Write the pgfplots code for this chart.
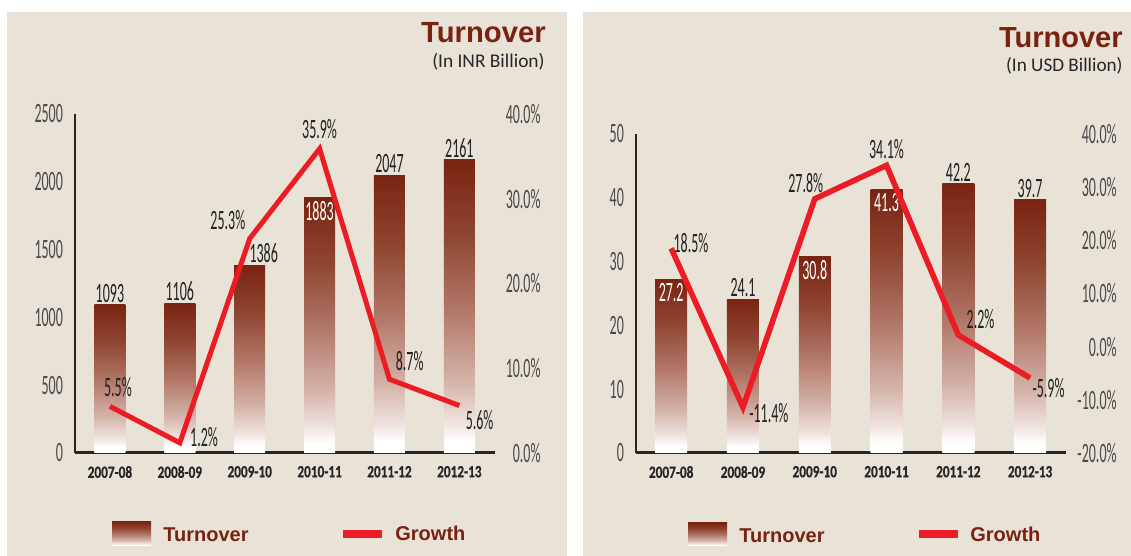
\documentclass[border=0pt]{standalone}
\usepackage{pgfplots}
\pgfplotsset{compat=1.18}
\usepackage{fontspec}
\setmainfont{Carlito}
\newfontfamily\cond[FakeStretch=0.5]{Carlito}
\newfontfamily\catfont[FakeStretch=0.78,FakeBold=0.6]{Carlito}
\newfontfamily\tfont{Liberation Sans}
\definecolor{bg}{HTML}{E8E2D7}
\definecolor{titlered}{HTML}{7A2212}
\definecolor{growthred}{HTML}{EC1C24}
\definecolor{bartop}{HTML}{7A2412}
\definecolor{barc4}{HTML}{8E4530}
\definecolor{barc3}{HTML}{B07565}
\definecolor{barc2}{HTML}{D4B2A8}
\definecolor{barc1}{HTML}{F0E4E0}
\definecolor{ticklab}{HTML}{4A4A4A}
\definecolor{datalab}{HTML}{222222}
\pgfdeclareverticalshading{barshade}{100bp}{color(0bp)=(white); color(27bp)=(white); color(30bp)=(barc1); color(37.5bp)=(barc2); color(50bp)=(barc3); color(62.5bp)=(barc4); color(75bp)=(bartop); color(100bp)=(bartop)}
\tikzset{
  dl/.style={font=\cond\fontsize{14}{16}\selectfont, text=datalab, inner sep=1pt},
  dlw/.style={font=\cond\fontsize{14}{16}\selectfont, text=white, inner sep=1.5pt},
  legtxt/.style={anchor=west, text=titlered, font=\tfont\bfseries\fontsize{10}{12}\selectfont, inner sep=0pt},
}
\pgfplotsset{
  base/.style={
    scale only axis, anchor=south west,
    axis x line*=bottom, axis y line*=left,
    axis line style={-, color=black!85},
    x axis line style={line width=1.5pt},
    y axis line style={line width=1pt},
    major tick length=0pt,
    tick style={draw=none},
    /pgf/number format/assume math mode=true,
    /pgf/number format/1000 sep={},
    yticklabel style={font=\cond\fontsize{14}{16}\selectfont, text=ticklab},
    xtick={0,1,2,3,4,5},
    xticklabels={2007-08,2008-09,2009-10,2010-11,2011-12,2012-13},
    xticklabel style={font=\catfont\bfseries\fontsize{8.5}{10}\selectfont, text=black!85, yshift=-3pt},
    clip=false,
  },
  bars/.style={ybar, bar shift=0pt, draw=none, shading=barshade},
  grow/.style={
    scale only axis, anchor=south west,
    axis x line=none, axis y line*=right,
    y axis line style={draw=none},
    major tick length=0pt, tick style={draw=none},
    /pgf/number format/assume math mode=true,
    yticklabel={\pgfmathprintnumber[fixed,fixed zerofill,precision=1]{\tick}\%},
    yticklabel style={font=\cond\fontsize{14}{16}\selectfont, text=ticklab},
    clip=false,
  },
}
\begin{document}
\begin{tikzpicture}
\path[use as bounding box, fill=white] (0,0) rectangle (565.5pt,278pt);
\fill[bg] (3.5pt,0) rectangle (283.5pt,272pt);
\fill[bg] (291.5pt,0) rectangle (565.5pt,272pt);

% ---------------- Left panel ----------------
\node[anchor=east, text=titlered, font=\tfont\bfseries\fontsize{14.6}{16}\selectfont, inner sep=0pt] at (273pt,261.5pt) {Turnover};
\node[anchor=east, text=black!85, font=\fontsize{9.7}{11}\selectfont, inner sep=0pt] at (272.5pt,247pt) {(In INR Billion)};

\begin{axis}[base, at={(37.5pt,51.5pt)}, width=210pt, height=169.5pt,
  xmin=-0.5, xmax=5.51, ymin=0, ymax=2500, ytick={0,500,...,2500},
  yticklabel style={xshift=-2.5pt}]
\addplot[bars, bar width=15.5pt] coordinates {(0,1093)};
\addplot[bars, bar width=15.5pt] coordinates {(1,1106)};
\addplot[bars, bar width=15.5pt] coordinates {(2,1386)};
\addplot[bars, bar width=15.5pt] coordinates {(3,1883)};
\addplot[bars, bar width=15.5pt] coordinates {(4,2047)};
\addplot[bars, bar width=15.5pt] coordinates {(5,2161)};
\node[dl, anchor=south] at (axis cs:0,1093) {1093};
\node[dl, anchor=south] at (axis cs:1,1106) {1106};
\node[dl, anchor=south, xshift=7pt] at (axis cs:2,1386) {1386};
\node[dlw, anchor=north] at (axis cs:3,1883) {1883};
\node[dl, anchor=south] at (axis cs:4,2047) {2047};
\node[dl, anchor=south] at (axis cs:5,2161) {2161};
\end{axis}
\begin{axis}[grow, at={(37.5pt,51.5pt)}, width=210pt, height=169.5pt,
  xmin=-0.5, xmax=5.51, ymin=0, ymax=40, ytick={0,10,...,40},
  yticklabel style={anchor=east, inner sep=0pt, xshift=23pt}]
\addplot[color=growthred, line width=2.5pt] coordinates {(0,5.5) (1,1.2) (2,25.3) (3,35.9) (4,8.7) (5,5.6)};
\node[dl, anchor=south, xshift=4pt, yshift=3.5pt] at (axis cs:0,5.5) {5.5\%};
\node[dl, anchor=west, xshift=4pt, yshift=3pt] at (axis cs:1,1.2) {1.2\%};
\node[dl, anchor=south east, xshift=-1pt, yshift=3pt] at (axis cs:2,25.3) {25.3\%};
\node[dl, anchor=south, yshift=4pt] at (axis cs:3,35.9) {35.9\%};
\node[dl, anchor=south west, xshift=2pt, yshift=3pt] at (axis cs:4,8.7) {8.7\%};
\node[dl, anchor=north west, xshift=2pt, yshift=-1pt] at (axis cs:5,5.6) {5.6\%};
\end{axis}
% legend left
\shade[shading=barshade] (56pt,5pt) rectangle (75.5pt,17pt);
\node[legtxt] at (81.5pt,10.5pt) {Turnover};
\draw[growthred, line width=4pt] (171.5pt,11pt) -- (191pt,11pt);
\node[legtxt] at (197.5pt,11.5pt) {Growth};

% ---------------- Right panel ----------------
\node[anchor=east, text=titlered, font=\tfont\bfseries\fontsize{14.5}{16}\selectfont, inner sep=0pt] at (561.5pt,259pt) {Turnover};
\node[anchor=east, text=black!85, font=\fontsize{9.6}{11}\selectfont, inner sep=0pt] at (561.5pt,245pt) {(In USD Billion)};

\begin{axis}[base, at={(318pt,51.5pt)}, width=215pt, height=159.5pt,
  xmin=-0.49, xmax=5.5, ymin=0, ymax=50, ytick={0,10,...,50},
  yticklabel style={xshift=-2.5pt}]
\addplot[bars, bar width=16pt] coordinates {(0,27.2)};
\addplot[bars, bar width=16pt] coordinates {(1,24.1)};
\addplot[bars, bar width=16pt] coordinates {(2,30.8)};
\addplot[bars, bar width=16pt] coordinates {(3,41.3)};
\addplot[bars, bar width=16pt] coordinates {(4,42.2)};
\addplot[bars, bar width=16pt] coordinates {(5,39.7)};
\node[dlw, anchor=north] at (axis cs:0,27.2) {27.2};
\node[dl, anchor=south] at (axis cs:1,24.1) {24.1};
\node[dlw, anchor=north] at (axis cs:2,30.8) {30.8};
\node[dlw, anchor=north] at (axis cs:3,41.3) {41.3};
\node[dl, anchor=south] at (axis cs:4,42.2) {42.2};
\node[dl, anchor=south] at (axis cs:5,39.7) {39.7};
\end{axis}
\begin{axis}[grow, at={(318pt,51.5pt)}, width=215pt, height=159.5pt,
  xmin=-0.49, xmax=5.5, ymin=-20, ymax=40, ytick={-20,-10,...,40},
  yticklabel style={anchor=east, inner sep=0pt, xshift=25.5pt}]
\addplot[color=growthred, line width=2.8pt] coordinates {(0,18.5) (1,-11.4) (2,27.8) (3,34.1) (4,2.2) (5,-5.9)};
\node[dl, anchor=west, yshift=2.5pt] at (axis cs:0,18.5) {18.5\%};
\node[dl, anchor=west, xshift=2pt, yshift=-3pt] at (axis cs:1,-11.4) {-11.4\%};
\node[dl, anchor=south, xshift=-4.5pt, yshift=2pt] at (axis cs:2,27.8) {27.8\%};
\node[dl, anchor=south, yshift=2pt] at (axis cs:3,34.1) {34.1\%};
\node[dl, anchor=south west, xshift=3pt, yshift=2pt] at (axis cs:4,2.2) {2.2\%};
\node[dl, anchor=north west, yshift=1pt] at (axis cs:5,-5.9) {-5.9\%};
\end{axis}
% legend right
\shade[shading=barshade] (344pt,5pt) rectangle (363.5pt,16.5pt);
\node[legtxt] at (369.5pt,10pt) {Turnover};
\draw[growthred, line width=3.8pt] (459.5pt,11pt) -- (479pt,11pt);
\node[legtxt] at (485pt,11pt) {Growth};
\end{tikzpicture}
\end{document}
